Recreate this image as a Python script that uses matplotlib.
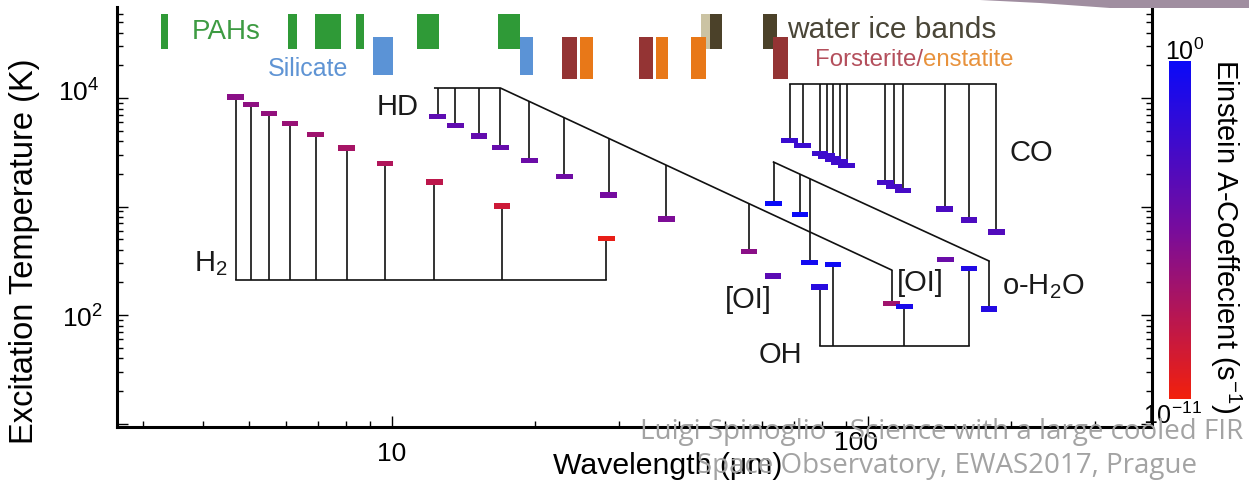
import numpy as np
import matplotlib
matplotlib.use("Agg")
import matplotlib.pyplot as plt
from matplotlib.colors import LinearSegmentedColormap, LogNorm
from matplotlib.cm import ScalarMappable
from matplotlib.patches import Polygon
from matplotlib.path import Path
from matplotlib.transforms import ScaledTranslation, blended_transform_factory

plt.rcParams['font.family'] = ['Liberation Sans', 'DejaVu Sans']
plt.rcParams['mathtext.fontset'] = 'custom'
plt.rcParams['mathtext.rm'] = 'Liberation Sans'
plt.rcParams['mathtext.it'] = 'Liberation Sans:italic'
plt.rcParams['mathtext.bf'] = 'Liberation Sans:bold'

# ---------------- line data: wavelength (um), upper level energy (K), Einstein A (s^-1)
h2_wave = [28.22, 17.03, 12.28, 9.665, 8.025, 6.909, 6.109, 5.511, 5.053, 4.695]
h2_temp = [510, 1015, 1682, 2504, 3474, 4586, 5829, 7197, 8677, 10263]
h2_A = [2.9e-11, 4.8e-10, 2.8e-9, 9.8e-9, 2.6e-8, 5.9e-8, 1.1e-7, 2.0e-7, 3.2e-7, 4.9e-7]

hd_wave = [112.1, 56.23, 37.70, 28.50, 23.03, 19.43, 16.89, 15.25, 13.59, 12.47]
hd_temp = [128, 384, 766, 1272, 1900, 2645, 3506, 4478, 5557, 6738]
hd_A = [5.1e-8, 4.9e-7, 1.8e-6, 4.4e-6, 8.8e-6, 1.5e-5, 2.4e-5, 3.5e-5, 4.9e-5, 6.6e-5]

co_wave = [68.44, 72.84, 79.36, 81.81, 84.41, 87.19, 90.16, 108.76, 113.46, 118.58, 144.78, 162.81, 186.00]
co_temp = [4080, 3669, 3092, 2911, 2735, 2565, 2400, 1657, 1524, 1397, 945, 752, 581]
co_A = [4.1e-3, 3.6e-3, 3.0e-3, 2.7e-3, 2.5e-3, 2.3e-3, 2.1e-3, 1.3e-3, 1.15e-3, 1.0e-3, 5.7e-4, 4.05e-4, 2.7e-4]

oh2o_wave = [63.32, 71.95, 75.38, 179.53]
oh2o_temp = [1071, 843, 305, 114]
oh2o_A = [1.75, 1.15, 0.35, 0.056]

oh_wave = [79.12, 84.42, 119.3, 163.1]
oh_temp = [181, 291, 120, 270]
oh_A = [0.029, 0.52, 0.14, 0.064]

oi_wave = [63.18, 145.5]
oi_temp = [228, 326]
oi_A = [8.9e-5, 1.7e-5]

# connector levels (K) and kinked connectors (wavelength, K)
h2_bar = 210
oh_bar = 52
co_bar = 13460
hd_path_wave = [12.30, 16.89, 112.1]
hd_path_temp = [12370, 12370, 260]
oh2o_path_wave = [63.32, 179.53]
oh2o_path_temp = [2570, 315]

# ---------------- dust / ice feature bands (um)
pah_lo = [3.27, 6.05, 6.89, 8.40, 11.29, 16.70]
pah_hi = [3.38, 6.32, 7.81, 8.74, 12.55, 18.57]
sil_lo = [9.12, 18.57]
sil_hi = [10.05, 19.78]
ice_light_lo = [44.6]
ice_light_hi = [47.0]
ice_dark_lo = [46.6, 60.2]
ice_dark_hi = [49.3, 64.4]
fo_lo = [22.76, 33.03, 63.15]
fo_hi = [24.47, 35.34, 67.9]
en_lo = [24.83, 35.86, 42.48]
en_hi = [26.44, 38.0, 45.67]

W, H = 1249, 485
fig = plt.figure(figsize=(W / 100, H / 100), dpi=100)
ax = fig.add_axes([117 / W, 57 / H, 1035 / W, 420 / H])
ax.set_xscale('log')
ax.set_yscale('log')
ax.set_xlim(2.644, 395)
ax.set_ylim(9.29, 69000)

cmap = LinearSegmentedColormap.from_list(
    'a_coeff', [(0.0, '#f2200c'), (0.5, '#780c9c'), (1.0, '#0a0af8')])
norm = LogNorm(1e-11, 1)

def log_interp(x, xs, ys):
    return 10 ** np.interp(np.log10(x), np.log10(xs), np.log10(ys))

stem_kw = dict(color='#111111', lw=1.2, zorder=2)

# H2: stems down to a common bar
ax.vlines(h2_wave, h2_bar, h2_temp, **stem_kw)
ax.plot([min(h2_wave), max(h2_wave)], [h2_bar, h2_bar], **stem_kw)
# OH: stems down to a common bar
ax.vlines(oh_wave, oh_bar, oh_temp, **stem_kw)
ax.plot([min(oh_wave), max(oh_wave)], [oh_bar, oh_bar], **stem_kw)
# CO: hanging from a flat bar
ax.vlines(co_wave, co_temp, co_bar, **stem_kw)
ax.plot([min(co_wave), max(co_wave)], [co_bar, co_bar], **stem_kw)
# HD: hanging from a kinked connector
ax.vlines(hd_wave, hd_temp, log_interp(hd_wave, hd_path_wave, hd_path_temp), **stem_kw)
ax.plot(hd_path_wave, hd_path_temp, **stem_kw)
# o-H2O: hanging from a sloped connector
ax.vlines(oh2o_wave, oh2o_temp, log_interp(oh2o_wave, oh2o_path_wave, oh2o_path_temp), **stem_kw)
ax.plot(oh2o_path_wave, oh2o_path_temp, **stem_kw)

dash = Path([(-1, -0.33), (1, -0.33), (1, 0.33), (-1, 0.33), (-1, -0.33)],
            [Path.MOVETO, Path.LINETO, Path.LINETO, Path.LINETO, Path.CLOSEPOLY])
all_wave = h2_wave + hd_wave + co_wave + oh2o_wave + oh_wave + oi_wave
all_temp = h2_temp + hd_temp + co_temp + oh2o_temp + oh_temp + oi_temp
all_A = h2_A + hd_A + co_A + oh2o_A + oh_A + oi_A
ax.scatter(all_wave, all_temp, c=all_A, cmap=cmap, norm=norm, marker=dash,
           s=140, linewidths=0, zorder=3)

# feature bands along the top
bt = blended_transform_factory(ax.transData, ax.transAxes)

def bands(lo, hi, y0, y1, color, z=1):
    for a, b in zip(lo, hi):
        ax.fill_between([a, b], [y0, y0], [y1, y1], transform=bt,
                        color=color, lw=0, zorder=z)

bands(pah_lo, pah_hi, 0.900, 0.983, '#2f9a37')
bands(sil_lo, sil_hi, 0.838, 0.929, '#5b93d6')
bands(ice_light_lo, ice_light_hi, 0.900, 0.983, '#cbc3a3')
bands(ice_dark_lo, ice_dark_hi, 0.900, 0.983, '#4b4129')
bands(en_lo, en_hi, 0.829, 0.928, '#e87818', z=1.5)
bands(fo_lo, fo_hi, 0.829, 0.928, '#943434', z=1.6)

ax.text(4.48, 0.943, 'PAHs', transform=bt, color='#3d9b42', fontsize=20,
        ha='center', va='center')
ax.text(6.66, 0.855, 'Silicate', transform=bt, color='#5f94d4', fontsize=18,
        ha='center', va='center')
ax.text(112, 0.948, 'water ice bands', transform=bt, color='#4a4638', fontsize=21.5,
        ha='center', va='center')
t_fo = ax.text(77.4, 0.876, 'Forsterite/', transform=bt, color='#b44f5c',
               fontsize=17.3, ha='left', va='center')
ax.annotate('enstatite', xy=(1, 0.5), xycoords=t_fo, color='#e8923c',
            fontsize=17.3, ha='left', va='center')

# species labels
lab_kw = dict(fontsize=21, color='#1a1a1a', ha='center', va='center')
ax.text(4.17, 301, 'H$_2$', **lab_kw)
ax.text(10.3, 8440, 'HD', **lab_kw)
ax.text(220, 3180, 'CO', **lab_kw)
ax.text(56.0, 140, '[OI]', **lab_kw)
ax.text(129, 201, '[OI]', **lab_kw)
ax.text(233, 185, 'o-H$_2$O', **lab_kw)
ax.text(65.6, 43.7, 'OH', **lab_kw)

# axes styling
for side in ('left', 'bottom', 'right'):
    ax.spines[side].set_linewidth(2.2)
ax.spines['top'].set_visible(False)
ax.tick_params(axis='both', which='both', direction='in', width=1.0,
               labelsize=19, right=True, top=False)
ax.tick_params(which='major', length=8)
ax.tick_params(which='minor', length=4.5)
ax.tick_params(axis='y', pad=10)
ax.tick_params(axis='x', pad=10)
ax.set_yticks([10, 100, 1000, 10000])
ax.set_yticklabels(['', '$10^2$', '', '$10^4$'])
ax.set_xticks([10, 100])
ax.set_xticklabels(['10', '100'])

ax.set_xlabel('Wavelength (\u03bcm)', fontsize=21.8)
ax.xaxis.set_label_coords(0.532, -0.058)
ax.set_ylabel('Excitation Temperature (K)', fontsize=23.5)
ax.yaxis.set_label_coords(-0.074, 0.42)

# small offsets of individual tick labels
px = 1 / 100
ytick4 = ax.yaxis.get_major_ticks()[3].label1
ytick4.set_transform(ytick4.get_transform() + ScaledTranslation(-4 * px, 9 * px, fig.dpi_scale_trans))
xtick100 = ax.xaxis.get_major_ticks()[1].label1
xtick100.set_transform(xtick100.get_transform() + ScaledTranslation(-12 * px, 11 * px, fig.dpi_scale_trans))

# colour bar for the A coefficients
cax = fig.add_axes([1169 / W, 85 / H, 22 / W, 338 / H])
cb = fig.colorbar(ScalarMappable(norm=norm, cmap=cmap), cax=cax)
cb.outline.set_visible(False)
cax.set_yticks([])
cax.minorticks_off()
fig.text(1185 / W, 1 - 52 / H, '$10^0$', fontsize=18, ha='center', va='center')
fig.text(1172 / W, 1 - 416 / H, '$10^{-11}$', fontsize=18, ha='center', va='center')
fig.text(1226 / W, 1 - 236 / H, 'Einstein A-Coeffecient (s$^{-1}$)', fontsize=21,
         rotation=-90, ha='center', va='center')

# slide header strip and footer
fig.patches.append(Polygon([(960 / W, 1), (1, 1), (1, 1 - 9 / H), (1110 / W, 1 - 9 / H),
                            (1040 / W, 1 - 4 / H)], closed=True,
                           transform=fig.transFigure, facecolor='#a08ea0',
                           edgecolor='none'))
fig.text(640 / W, 1 - 432 / H, 'Luigi Spinoglio - Science with a large cooled FIR',
         fontsize=20, color='#a3a3a3', ha='left', va='center', family='Open Sans',
         zorder=10)
fig.text(697 / W, 1 - 466 / H, 'Space Observatory, EWAS2017, Prague',
         fontsize=20, color='#a3a3a3', ha='left', va='center', family='Open Sans',
         zorder=10)

fig.savefig('out.png', dpi=100)
